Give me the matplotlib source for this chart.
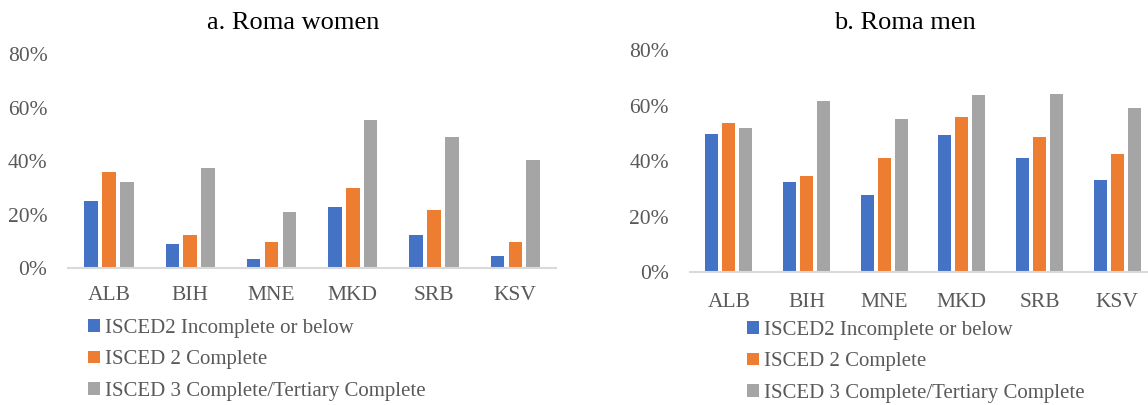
import numpy as np
import matplotlib
matplotlib.use('Agg')
import matplotlib.pyplot as plt
from matplotlib.ticker import PercentFormatter

plt.rcParams['font.family'] = ['Liberation Serif', 'DejaVu Serif']

# Data (share of population, %)
countries = ['ALB', 'BIH', 'MNE', 'MKD', 'SRB', 'KSV']
series_names = ['ISCED2 Incomplete or below', 'ISCED 2 Complete',
                'ISCED 3 Complete/Tertiary Complete']

women_isced2_incomplete = [25.0, 9.2, 3.4, 22.9, 12.6, 4.7]
women_isced2_complete = [36.1, 12.6, 10.0, 30.0, 21.9, 9.8]
women_isced3_tertiary = [32.1, 37.6, 21.2, 55.6, 49.2, 40.5]

men_isced2_incomplete = [49.7, 32.6, 27.9, 49.4, 41.3, 33.4]
men_isced2_complete = [53.9, 34.8, 41.3, 56.0, 48.6, 42.6]
men_isced3_tertiary = [52.1, 61.6, 55.4, 63.8, 64.4, 59.1]

colors = ['#4472C4', '#ED7D31', '#A5A5A5']
text_gray = '#595959'

fig = plt.figure(figsize=(11.48, 4.05), dpi=100)

# axes positions in figure fractions (right panel runs off the edge as in the source)
ax_women = fig.add_axes([0.0595, 0.3375, 0.4248, 0.5284])
ax_men = fig.add_axes([0.601, 0.3277, 0.406, 0.548])

panels = [
    (ax_women, 'a. Roma women', 0.2557, 13,
     [women_isced2_incomplete, women_isced2_complete, women_isced3_tertiary]),
    (ax_men, 'b. Roma men', 0.788, 15,
     [men_isced2_incomplete, men_isced2_complete, men_isced3_tertiary]),
]

x = np.arange(len(countries))
slot = 0.22
bar_w = 0.168

for ax, title, title_x, xpad, series in panels:
    for i, vals in enumerate(series):
        ax.bar(x + (i - 1) * slot, vals, width=bar_w, color=colors[i],
               label=series_names[i], zorder=2)
    ax.set_xlim(-0.5, len(countries) - 0.5)
    ax.set_ylim(0, 80)
    ax.set_yticks([0, 20, 40, 60, 80])
    ax.yaxis.set_major_formatter(PercentFormatter(decimals=0))
    ax.set_xticks(x)
    ax.set_xticklabels(countries)
    for s in ['top', 'right', 'left']:
        ax.spines[s].set_visible(False)
    ax.spines['bottom'].set_color('#D9D9D9')
    ax.spines['bottom'].set_linewidth(1.5)
    ax.tick_params(axis='both', length=0, labelsize=15.5, labelcolor=text_gray)
    ax.tick_params(axis='y', pad=15)
    ax.tick_params(axis='x', pad=xpad)
    # chart title is centred on the whole chart area, not the plot area
    fig.text(title_x, 0.943, title, fontsize=19, color='black',
             ha='center', va='center')

leg_kw = dict(frameon=False, fontsize=15, labelcolor=text_gray,
              handlelength=0.55, handleheight=0.55, handletextpad=0.25,
              labelspacing=0.6, borderpad=0, borderaxespad=0, loc='upper left')

h_w, l_w = ax_women.get_legend_handles_labels()
fig.legend(h_w, l_w, bbox_to_anchor=(0.077, 0.213), **leg_kw)
h_m, l_m = ax_men.get_legend_handles_labels()
fig.legend(h_m, l_m, bbox_to_anchor=(0.651, 0.208), **leg_kw)

fig.savefig('out.png', dpi=100)
